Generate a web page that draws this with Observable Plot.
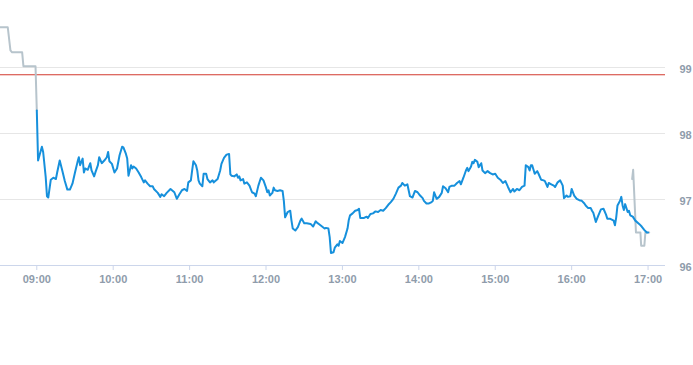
<!DOCTYPE html>
<html><head><meta charset="utf-8">
<script src="https://cdn.jsdelivr.net/npm/d3@7"></script>
<script src="https://cdn.jsdelivr.net/npm/@observablehq/plot@0.6"></script>
<style>html,body{margin:0;padding:0;background:#fff;}</style>
</head><body><div id="chart"></div>
<script>
// Session open reference; all times are minutes after 09:00
const sessionOpen = "09:00";
const hourTicks = ["09:00","10:00","11:00","12:00","13:00","14:00","15:00","16:00","17:00"];
const yTicks = [96, 97, 98, 99];
const refValue = 98.89;

const blueMinutes = [0,1,4,5,7,8,9,11,13,15,16,18,20,22,24,26,28,30,32,33,34,36,37,38,40,42,43,45,46,48,49,51,53,55,56,57,59,
61,63,65,67,68,70,71,72,74,75,76,78,80,82,84,85,87,89,91,92,95,97,98,100,102,105,108,110,112,114,116,118,119,
121,122,123,125,126,127,128,130,131,133,134,136,138,139,142,144,145,147,149,151,152,153,155,157,158,159,160,162,163,165,167,169,171,172,174,176,178,
180,181,182,183,185,186,187,189,191,193,194,195,197,199,200,201,203,205,207,208,210,212,215,217,219,220,222,224,226,227,229,230,231,233,234,236,237,238,
240,242,244,245,246,248,250,252,253,254,257,259,260,262,264,266,268,270,272,274,276,278,280,282,284,286,287,289,291,292,293,295,297,299,
301,303,304,306,308,310,311,312,314,316,318,319,321,323,324,326,328,330,332,333,335,337,338,339,341,342,343,344,346,347,349,350,352,354,356,358,
360,362,364,366,368,370,372,374,375,377,379,381,383,384,386,387,388,389,391,393,394,396,398,399,401,402,404,406,407,409,411,413,414,416,417,419,
420,422,424,426,428,430,431,433,435,436,437,439,441,443,445,447,448,450,453,454,455,456,458,459,460,461,462,464,465,466,468,470,473,475,477,479,480];
const blueValues = [98.35,97.59,97.80,97.72,97.34,97.05,97.03,97.30,97.33,97.31,97.41,97.59,97.44,97.28,97.15,97.15,97.24,97.41,97.57,97.64,97.52,97.62,97.41,97.47,97.45,97.55,97.44,97.35,97.41,97.52,97.64,97.55,97.59,97.64,97.72,97.58,97.54,
97.41,97.47,97.67,97.80,97.79,97.69,97.62,97.36,97.52,97.47,97.50,97.47,97.41,97.34,97.26,97.29,97.24,97.20,97.20,97.16,97.10,97.04,97.08,97.05,97.10,97.16,97.11,97.01,97.08,97.14,97.16,97.13,97.26,
97.29,97.44,97.58,97.52,97.44,97.29,97.24,97.20,97.39,97.39,97.31,97.26,97.29,97.26,97.31,97.44,97.54,97.63,97.68,97.69,97.38,97.36,97.35,97.38,97.33,97.35,97.29,97.31,97.24,97.26,97.21,97.11,97.09,97.05,97.21,97.33,97.29,
97.18,97.11,97.14,97.06,97.10,97.18,97.14,97.13,97.14,97.13,96.98,96.73,96.81,96.83,96.68,96.56,96.53,96.58,96.68,96.71,96.64,96.64,96.63,96.59,96.67,96.65,96.62,96.59,96.56,96.57,96.56,96.43,96.19,96.20,96.27,96.32,96.30,96.37,
96.34,96.43,96.56,96.69,96.76,96.79,96.83,96.84,96.86,96.72,96.72,96.74,96.72,96.78,96.79,96.82,96.81,96.84,96.83,96.87,96.92,96.96,97.01,97.09,97.18,97.21,97.25,97.21,97.23,97.14,97.05,97.03,97.13,97.11,
97.06,97.02,96.98,96.94,96.94,96.96,96.98,97.11,97.01,97.04,97.10,97.20,97.17,97.11,97.19,97.21,97.21,97.25,97.28,97.23,97.33,97.44,97.48,97.43,97.50,97.57,97.55,97.60,97.57,97.49,97.55,97.44,97.40,97.43,97.40,97.38,
97.39,97.33,97.30,97.25,97.28,97.19,97.11,97.16,97.12,97.16,97.14,97.19,97.21,97.52,97.49,97.44,97.52,97.52,97.39,97.43,97.39,97.30,97.29,97.28,97.19,97.25,97.23,97.21,97.19,97.26,97.29,97.21,97.02,97.06,97.04,97.05,
97.16,97.06,97.01,96.99,96.98,96.94,96.91,96.87,96.87,96.83,96.80,96.66,96.76,96.85,96.86,96.77,96.71,96.71,96.68,96.61,96.73,96.91,96.98,97.04,96.91,96.84,96.93,96.81,96.83,96.76,96.74,96.68,96.63,96.59,96.54,96.50,96.50];

const preMinutes = [-28.5,-22.8,-20.7,-19.4,-11.5,-10.5,-1.0,0];
const preValues  = [99.61,99.61,99.26,99.23,99.23,99.02,99.02,98.35];

const postMinutes = [467.5,468.3,470.5,474.0,474.6,477.1,477.9,480.9];
const postValues  = [97.31,97.45,96.50,96.50,96.30,96.30,96.50,96.50];

const domainMinutes = [-28.5, 493.7];

const [oh, om] = sessionOpen.split(":").map(Number);
const openMs = Date.UTC(2020, 0, 2, oh, om);
const toDate = m => new Date(openMs + m * 60000);
const hhmm = s => { const [h, m] = s.split(":").map(Number); return toDate((h - oh) * 60 + (m - om)); };

const blue = blueMinutes.map((m, i) => ({t: toDate(m), v: blueValues[i]}));
const pre = preMinutes.map((m, i) => ({t: toDate(m), v: preValues[i]}));
const post = postMinutes.map((m, i) => ({t: toDate(m), v: postValues[i]}));

const labelColor = "#8f9cab";
const chart = Plot.plot({
  width: 693,
  height: 365,
  marginTop: 1,
  marginBottom: 100,
  marginLeft: 0,
  marginRight: 28,
  style: {fontFamily: "'Liberation Sans', Arial, sans-serif", fontSize: "11px", background: "#ffffff"},
  x: {type: "utc", domain: domainMinutes.map(toDate)},
  y: {domain: [96, 100]},
  marks: [
    Plot.ruleY([97, 98, 99], {stroke: "#e6e6e6", strokeWidth: 1}),
    Plot.ruleY([96], {stroke: "#ccd6eb", strokeWidth: 1}),
    Plot.ruleY([refValue], {stroke: "#d23a2f", strokeWidth: 1}),
    Plot.line(pre, {x: "t", y: "v", stroke: "#b7c4cc", strokeWidth: 2}),
    Plot.line(post, {x: "t", y: "v", stroke: "#b7c4cc", strokeWidth: 2}),
    Plot.line(blue, {x: "t", y: "v", stroke: "#1690dc", strokeWidth: 2}),
    Plot.axisX({ticks: hourTicks.map(hhmm), tickFormat: d3.utcFormat("%H:%M"), tickSize: 5, tickPadding: 5,
      stroke: "#ccd6eb", fill: labelColor, fontWeight: "bold", label: null}),
    Plot.axisY({anchor: "right", ticks: yTicks, tickFormat: d => String(d), tickSize: 0, tickPadding: 14,
      fill: labelColor, fontWeight: "bold", textAnchor: "start", dy: 2, label: null})
  ]
});
document.getElementById("chart").appendChild(chart);
</script>
</body></html>
